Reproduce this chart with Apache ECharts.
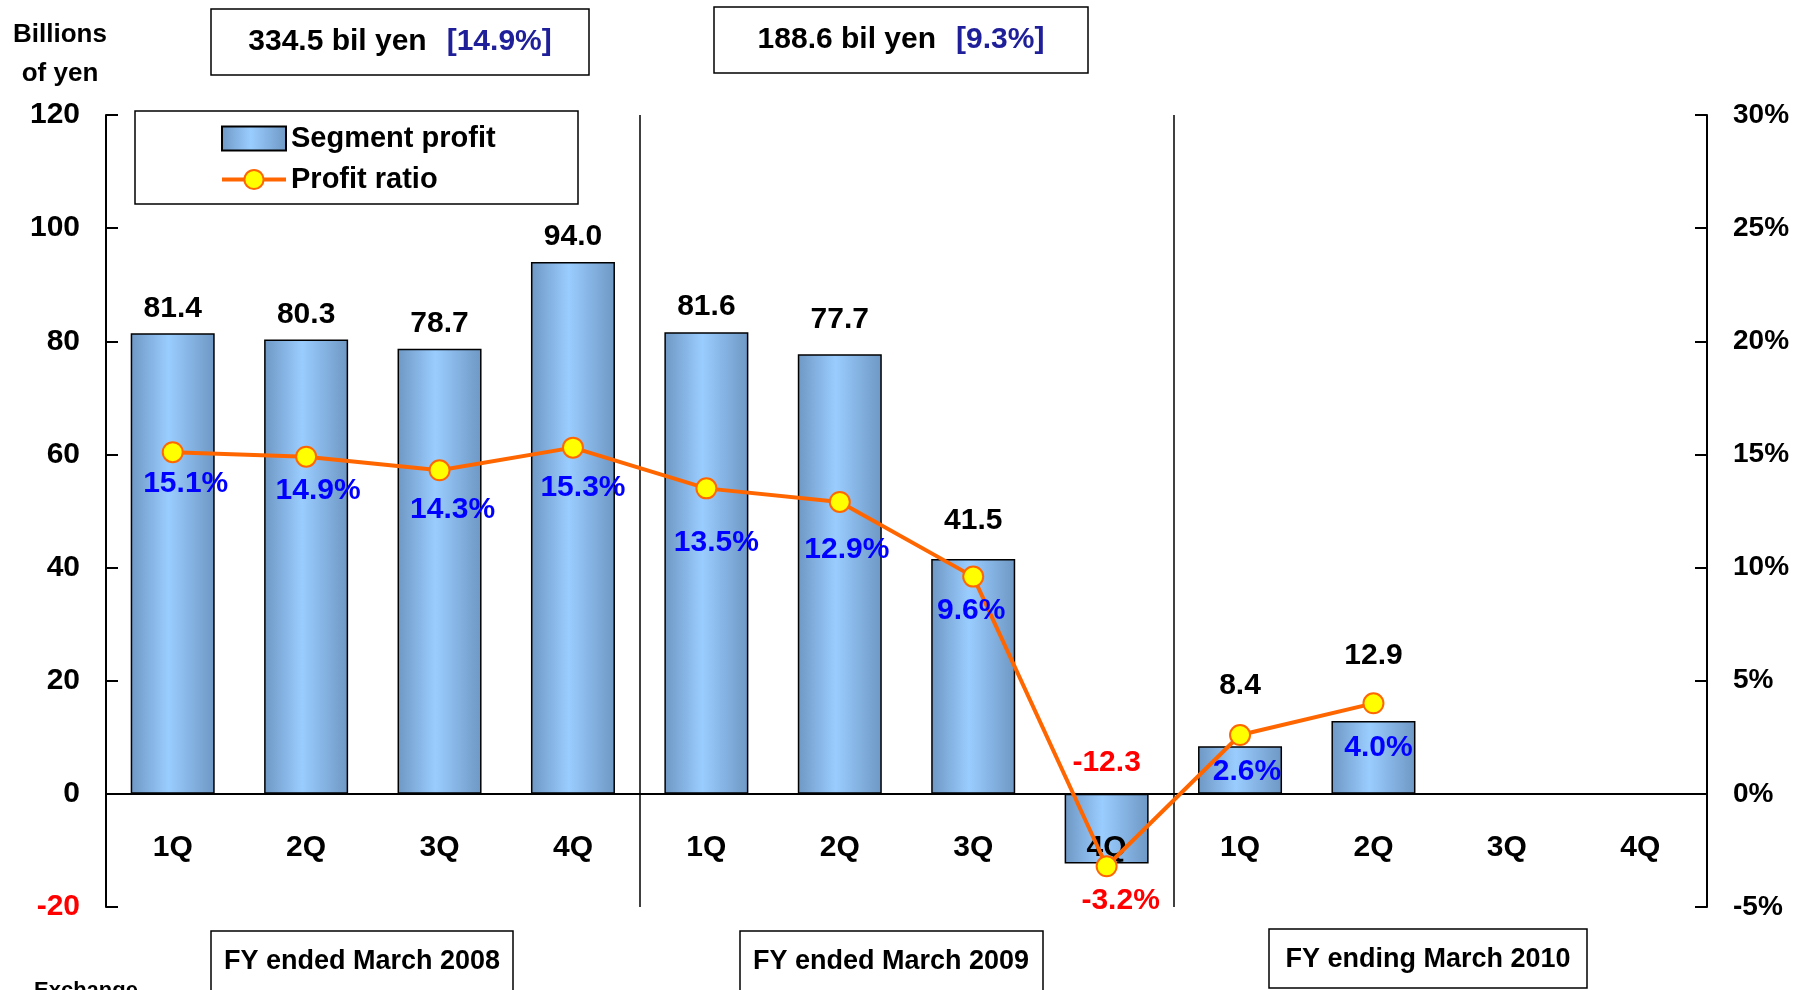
<!DOCTYPE html>
<html>
<head>
<meta charset="utf-8">
<script src="https://cdn.jsdelivr.net/npm/echarts@6/dist/echarts.min.js"></script>
<style>
  html, body { margin: 0; padding: 0; background: #fff; }
  #chart { width: 1807px; height: 990px; }
</style>
</head>
<body>
<div id="chart"></div>
<script>
  // data
  const quarters = ['1Q', '2Q', '3Q', '4Q', '1Q', '2Q', '3Q', '4Q', '1Q', '2Q', '3Q', '4Q']
  const segmentProfit = [81.4, 80.3, 78.7, 94.0, 81.6, 77.7, 41.5, -12.3, 8.4, 12.9, null, null]
  const profitRatio = [15.1, 14.9, 14.3, 15.3, 13.5, 12.9, 9.6, -3.2, 2.6, 4.0, null, null]
  const fiscalYears = ['FY ended March 2008', 'FY ended March 2009', 'FY ending March 2010']
  const yearTotals = ['334.5 bil yen', '188.6 bil yen']
  const yearRatios = ['[14.9%]', '[9.3%]']

  const font = '"Liberation Sans", Arial, sans-serif'

  // hand placed labels in the original slide
  const barLabelLift = { 5: 10, 6: 13, 7: 6, 8: 36, 9: 40 }
  const ratioLabelShift = [[13, 0], [12, 2], [13, 7], [10, 8], [10, 22], [7, 16], [-2, 2], [14, 2], [7, 5], [5, 12]]

  let myChart = echarts.init(document.getElementById('chart'))

  let barData = segmentProfit.map((v, i) => ({
    value: v,
    label: {
      color: v < 0 ? '#ff0000' : '#000000',
      distance: 10 + (barLabelLift[i] || 0)
    }
  }))
  let lineData = profitRatio.map((v, i) => ({
    value: v,
    label: {
      color: v < 0 ? '#ff0000' : '#0000ff',
      offset: ratioLabelShift[i] || [0, 0]
    }
  }))

  // boxes drawn around the totals and year names
  function box (x, y, w, h) {
    return {
      type: 'rect',
      shape: { x: x, y: y, width: w, height: h },
      style: { fill: '#fff', stroke: '#000', lineWidth: 1.5 },
      z: 10
    }
  }
  function boxText (x, y, text, size) {
    return {
      type: 'text',
      x: x,
      y: y,
      style: {
        text: text,
        font: 'bold ' + size + 'px ' + font,
        fill: '#000',
        align: 'center',
        verticalAlign: 'middle'
      },
      z: 11
    }
  }
  function totalText (x, y, i) {
    return {
      type: 'text',
      x: x,
      y: y,
      style: {
        text: '{a|' + yearTotals[i] + '}{s| }{b|' + yearRatios[i] + '}',
        align: 'center',
        verticalAlign: 'middle',
        rich: {
          a: { font: 'bold 30px ' + font, fill: '#000' },
          s: { font: 'bold 30px ' + font, width: 20 },
          b: { font: 'bold 30px ' + font, fill: '#1f1f99' }
        }
      },
      z: 11
    }
  }

  let option = {
    animation: false,
    grid: { left: 106, right: 100, top: 115, bottom: 83 },
    legend: {
      orient: 'vertical',
      left: 215,
      top: 119,
      itemWidth: 64,
      itemHeight: 24,
      itemGap: 12,
      textStyle: { fontFamily: font, fontWeight: 'bold', fontSize: 29, color: '#000' },
      data: [
        { name: 'Segment profit', icon: 'rect' },
        { name: 'Profit ratio', lineStyle: { width: 4 } }
      ]
    },
    xAxis: {
      type: 'category',
      data: quarters,
      z: 3,
      axisLine: { onZero: true, lineStyle: { color: '#000', width: 2 } },
      axisTick: { show: false },
      axisLabel: {
        interval: 0,
        margin: -74,
        fontFamily: font,
        fontWeight: 'bold',
        fontSize: 30,
        color: '#000'
      },
      splitLine: {
        show: true,
        interval: function (i) { return i === 4 || i === 8 },
        lineStyle: { color: '#000', width: 1.5 }
      }
    },
    yAxis: [
      {
        type: 'value',
        min: -20,
        max: 120,
        interval: 20,
        axisLine: { show: true, lineStyle: { color: '#000', width: 2 } },
        axisTick: { show: true, inside: true, length: 12, lineStyle: { color: '#000', width: 2 } },
        axisLabel: {
          margin: 26,
          fontFamily: font,
          fontWeight: 'bold',
          fontSize: 30,
          color: function (v) { return v < 0 ? '#ff0000' : '#000' }
        },
        splitLine: { show: false }
      },
      {
        type: 'value',
        min: -5,
        max: 30,
        interval: 5,
        axisLine: { show: true, lineStyle: { color: '#000', width: 2 } },
        axisTick: { show: true, inside: true, length: 12, lineStyle: { color: '#000', width: 2 } },
        axisLabel: {
          margin: 26,
          formatter: '{value}%',
          fontFamily: font,
          fontWeight: 'bold',
          fontSize: 28,
          color: '#000'
        },
        splitLine: { show: false }
      }
    ],
    series: [
      {
        name: 'Segment profit',
        type: 'bar',
        barWidth: 84,
        z: 2,
        data: barData,
        itemStyle: {
          color: new echarts.graphic.LinearGradient(0, 0, 1, 0, [
            { offset: 0, color: '#6e97c4' },
            { offset: 0.45, color: '#9acdff' },
            { offset: 1, color: '#6e97c4' }
          ]),
          borderColor: '#000',
          borderWidth: 1.5
        },
        label: {
          show: true,
          position: 'top',
          fontFamily: font,
          fontWeight: 'bold',
          fontSize: 30,
          formatter: function (p) { return p.value == null ? '' : p.value.toFixed(1) }
        }
      },
      {
        name: 'Profit ratio',
        type: 'line',
        yAxisIndex: 1,
        z: 5,
        data: lineData,
        symbol: 'circle',
        symbolSize: 20,
        lineStyle: { color: '#ff6600', width: 4 },
        itemStyle: { color: '#ffff00', borderColor: '#ff6600', borderWidth: 2 },
        label: {
          show: true,
          position: 'bottom',
          distance: 6,
          fontFamily: font,
          fontWeight: 'bold',
          fontSize: 30,
          formatter: function (p) { return p.value == null ? '' : p.value.toFixed(1) + '%' }
        }
      }
    ],
    graphic: [
      {
        type: 'text',
        x: 60,
        y: 15,
        style: {
          text: 'Billions\nof yen',
          font: 'bold 26px ' + font,
          lineHeight: 39,
          fill: '#000',
          align: 'center'
        }
      },
      {
        type: 'rect',
        shape: { x: 135, y: 111, width: 443, height: 93 },
        style: { fill: 'none', stroke: '#000', lineWidth: 1.5 },
        z: 10
      },
      box(211, 9, 378, 66),
      totalText(400, 42, 0),
      box(714, 7, 374, 66),
      totalText(901, 40, 1),
      box(211, 931, 302, 70),
      boxText(362, 962, fiscalYears[0], 27),
      box(740, 931, 303, 70),
      boxText(891, 962, fiscalYears[1], 27),
      box(1269, 929, 318, 59),
      boxText(1428, 960, fiscalYears[2], 27),
      {
        type: 'text',
        x: 34,
        y: 980,
        style: { text: 'Exchange', font: 'bold 22px ' + font, fill: '#000' }
      }
    ]
  }
  myChart.setOption(option)
</script>
</body>
</html>
